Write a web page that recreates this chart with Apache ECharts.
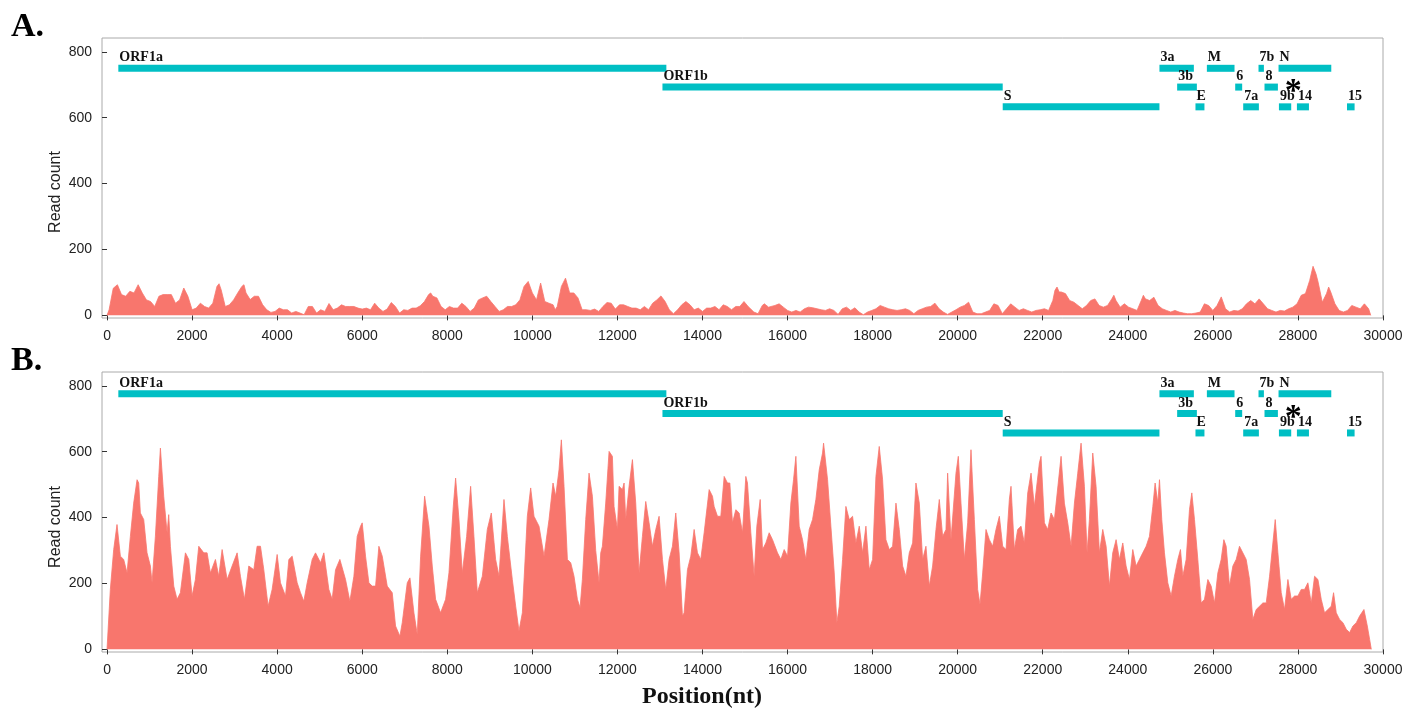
<!DOCTYPE html>
<html>
<head>
<meta charset="utf-8">
<script src="https://cdn.jsdelivr.net/npm/echarts@6/dist/echarts.min.js"></script>
<style>
  html, body { margin: 0; padding: 0; background: #fff; }
  #chart { width: 1419px; height: 713px; }
</style>
</head>
<body>
<div id="chart"></div>
<script>
// tick labels
const xTicks = [0, 2000, 4000, 6000, 8000, 10000, 12000, 14000, 16000, 18000, 20000, 22000, 24000, 26000, 28000, 30000];
const yTicks = [0, 200, 400, 600, 800];

// gene annotation: name, start, end, row (0 = top)
const geneNames = ['ORF1a', 'ORF1b', 'S', '3a', '3b', 'E', 'M', '6', '7a', '7b', '8', 'N', '9b', '14', '15'];
const geneStart = [266, 13059, 21059, 24744, 25160, 25591, 25859, 26525, 26713, 27073, 27214, 27544, 27553, 27976, 29153];
const geneEnd = [13151, 21059, 24744, 25553, 25624, 25802, 26509, 26689, 27082, 27200, 27529, 28784, 27842, 28259, 29332];
const geneRow = [0, 1, 2, 0, 1, 2, 0, 1, 2, 0, 1, 0, 2, 2, 2];
// read-count level of each annotation row in the two panels
const rowLevelA = [750, 693, 633];
const rowLevelB = [776, 716, 657];
const starPos = 27866;
const starRow = 1;

// read coverage, [position, count]
const coverageA = [[0,0],[49,17],[146,82],[244,93],[341,63],[439,58],[537,73],[634,68],[732,93],[829,68],[927,47],[1024,42],[1122,27],[1220,58],[1317,63],[1415,63],[1512,63],[1610,37],[1707,47],[1805,83],[1902,58],[2000,17],[2098,22],[2195,37],[2293,27],[2390,22],[2488,37],[2585,88],[2634,96],[2683,78],[2780,27],[2878,32],[2976,47],[3073,68],[3171,88],[3220,93],[3268,68],[3366,48],[3463,58],[3561,58],[3659,32],[3756,17],[3854,9],[3951,12],[4049,22],[4146,17],[4244,17],[4341,7],[4439,12],[4537,7],[4634,2],[4732,27],[4829,27],[4927,7],[5024,17],[5122,12],[5219,36],[5317,17],[5415,22],[5512,32],[5610,27],[5707,27],[5805,27],[5902,22],[6000,19],[6098,22],[6195,17],[6293,37],[6390,22],[6488,12],[6585,19],[6683,39],[6780,27],[6878,7],[6976,17],[7073,15],[7171,22],[7268,22],[7366,29],[7463,42],[7561,63],[7610,68],[7659,58],[7756,53],[7854,27],[7951,17],[8049,27],[8146,22],[8244,22],[8341,37],[8439,27],[8537,12],[8634,22],[8732,47],[8829,53],[8927,58],[9024,42],[9122,27],[9220,12],[9317,17],[9415,27],[9512,27],[9610,32],[9707,47],[9805,88],[9902,103],[10000,68],[10098,47],[10195,98],[10293,42],[10390,37],[10488,32],[10537,17],[10585,27],[10683,88],[10780,113],[10878,68],[10976,68],[11073,53],[11171,17],[11268,17],[11366,15],[11463,19],[11561,12],[11659,27],[11756,39],[11854,37],[11951,19],[12049,32],[12146,32],[12244,27],[12341,22],[12439,22],[12537,17],[12634,27],[12732,17],[12829,37],[12927,47],[13024,59],[13122,42],[13220,17],[13317,5],[13415,17],[13512,32],[13610,42],[13707,32],[13805,17],[13902,22],[14000,12],[14098,22],[14195,22],[14293,27],[14390,17],[14488,32],[14585,27],[14683,17],[14781,27],[14878,27],[14976,42],[15073,27],[15208,10],[15307,5],[15406,30],[15455,35],[15554,25],[15703,30],[15802,35],[15901,25],[16000,15],[16099,10],[16198,15],[16297,10],[16396,20],[16495,25],[16594,23],[16693,20],[16792,17],[16891,15],[16990,20],[17089,15],[17188,3],[17287,20],[17386,25],[17485,15],[17584,23],[17683,10],[17782,2],[17881,10],[17980,15],[18079,20],[18178,30],[18277,25],[18376,20],[18475,17],[18574,15],[18673,17],[18772,20],[18871,15],[18970,5],[19069,15],[19168,20],[19267,25],[19366,27],[19465,37],[19564,20],[19663,10],[19762,3],[19861,10],[19960,17],[20059,25],[20158,30],[20257,40],[20356,10],[20455,5],[20554,5],[20653,10],[20752,15],[20851,35],[20950,30],[21049,5],[21148,20],[21247,35],[21346,25],[21445,15],[21544,20],[21643,15],[21742,10],[21841,15],[21940,17],[22039,20],[22138,15],[22237,45],[22287,76],[22336,86],[22386,71],[22435,71],[22534,66],[22633,45],[22732,40],[22831,30],[22930,20],[23029,30],[23128,45],[23227,50],[23326,30],[23425,25],[23524,30],[23623,50],[23672,61],[23722,45],[23821,25],[23920,35],[24019,25],[24118,20],[24217,15],[24316,45],[24366,61],[24415,50],[24514,45],[24613,55],[24712,30],[24811,20],[24910,15],[25009,10],[25108,15],[25207,10],[25306,7],[25405,5],[25504,5],[25603,7],[25702,10],[25801,35],[25900,30],[25999,15],[26098,30],[26197,56],[26296,20],[26395,10],[26494,15],[26593,13],[26692,20],[26791,35],[26890,45],[26989,35],[27088,50],[27187,35],[27286,20],[27385,15],[27484,10],[27583,15],[27682,13],[27781,20],[27880,25],[27979,35],[28078,61],[28177,66],[28276,106],[28355,149],[28424,126],[28474,101],[28573,40],[28672,66],[28722,86],[28771,71],[28870,35],[28969,15],[29068,10],[29167,15],[29266,30],[29365,25],[29464,20],[29563,35],[29662,20],[29712,0]];

const coverageB = [[0,0],[78,182],[157,303],[235,379],[275,374],[314,283],[392,273],[471,232],[549,343],[627,444],[706,515],[745,505],[784,414],[863,394],[941,293],[1020,253],[1059,202],[1137,343],[1216,525],[1255,611],[1333,465],[1412,354],[1451,409],[1490,313],[1569,192],[1647,152],[1725,172],[1843,293],[1922,273],[2000,162],[2078,212],[2157,313],[2275,293],[2353,293],[2431,232],[2549,273],[2627,222],[2706,303],[2824,212],[2941,253],[3059,293],[3137,222],[3231,152],[3333,253],[3451,242],[3529,313],[3608,313],[3686,242],[3788,131],[3882,182],[4000,288],[4078,202],[4196,162],[4275,273],[4353,283],[4471,202],[4549,172],[4627,146],[4706,202],[4824,273],[4902,293],[5020,263],[5098,293],[5216,182],[5294,152],[5373,242],[5475,273],[5608,212],[5710,146],[5804,222],[5882,343],[5961,374],[6000,384],[6078,283],[6157,202],[6235,192],[6314,192],[6392,313],[6471,283],[6588,192],[6706,172],[6784,71],[6886,40],[6941,81],[7059,202],[7122,217],[7216,111],[7294,45],[7373,283],[7467,465],[7569,374],[7647,253],[7725,152],[7843,111],[7961,152],[8039,232],[8141,434],[8196,520],[8275,394],[8353,232],[8455,343],[8549,495],[8627,343],[8706,172],[8824,222],[8941,364],[9035,414],[9137,273],[9216,222],[9333,455],[9412,343],[9529,212],[9608,131],[9686,56],[9765,111],[9882,404],[9961,490],[10039,404],[10157,374],[10275,283],[10392,394],[10486,505],[10549,465],[10627,545],[10682,636],[10745,495],[10824,273],[10902,263],[10980,222],[11059,152],[11122,126],[11176,212],[11255,394],[11333,535],[11412,465],[11490,300],[11568,202],[11608,293],[11647,313],[11725,444],[11804,601],[11882,586],[11921,434],[12000,364],[12039,495],[12117,485],[12157,505],[12196,394],[12274,495],[12353,576],[12431,444],[12510,232],[12588,343],[12666,449],[12745,384],[12823,313],[12902,364],[12980,404],[13059,273],[13137,182],[13215,273],[13294,313],[13372,414],[13451,293],[13529,101],[13568,111],[13647,242],[13725,283],[13804,364],[13882,293],[13960,273],[14039,354],[14157,485],[14235,465],[14274,434],[14353,404],[14431,404],[14510,525],[14588,505],[14643,505],[14706,384],[14784,424],[14862,414],[14941,354],[15019,525],[15058,505],[15137,354],[15215,222],[15278,374],[15357,455],[15412,303],[15490,323],[15568,354],[15647,333],[15764,293],[15843,273],[15921,303],[16000,283],[16078,444],[16141,515],[16196,586],[16274,374],[16352,333],[16431,273],[16509,364],[16588,394],[16666,455],[16745,545],[16823,596],[16847,626],[16941,515],[17019,374],[17098,232],[17160,81],[17215,131],[17294,273],[17372,434],[17451,394],[17529,404],[17607,323],[17686,374],[17764,293],[17843,374],[17921,242],[18000,273],[18078,525],[18156,616],[18235,515],[18313,333],[18392,303],[18470,313],[18549,444],[18627,364],[18706,253],[18784,222],[18862,293],[18941,323],[19019,505],[19098,444],[19176,273],[19254,313],[19333,192],[19411,253],[19490,364],[19568,455],[19647,343],[19725,364],[19764,535],[19843,333],[19960,535],[20015,586],[20078,444],[20157,273],[20235,384],[20313,606],[20392,394],[20470,182],[20525,136],[20588,232],[20666,364],[20745,333],[20823,313],[20901,364],[20980,404],[21058,313],[21137,303],[21215,455],[21254,495],[21333,303],[21411,364],[21490,374],[21568,323],[21647,475],[21725,535],[21803,434],[21921,566],[21960,586],[22039,384],[22117,364],[22196,414],[22274,394],[22431,586],[22509,444],[22588,384],[22666,313],[22745,444],[22823,535],[22901,626],[22980,495],[23042,293],[23097,394],[23176,596],[23254,495],[23333,293],[23411,364],[23490,313],[23568,192],[23646,293],[23725,333],[23803,273],[23882,323],[23960,253],[24039,212],[24117,303],[24195,253],[24274,273],[24352,293],[24431,313],[24509,343],[24588,434],[24642,505],[24705,444],[24745,515],[24799,394],[24862,293],[24940,202],[25019,162],[25097,222],[25176,273],[25238,303],[25293,222],[25372,273],[25450,424],[25505,475],[25568,394],[25646,273],[25725,141],[25803,152],[25882,212],[25960,192],[26038,141],[26117,232],[26195,273],[26258,333],[26313,313],[26391,192],[26470,253],[26548,273],[26626,313],[26705,293],[26783,273],[26862,212],[26940,91],[27019,121],[27097,131],[27176,141],[27254,141],[27333,222],[27411,323],[27466,394],[27529,293],[27607,172],[27685,121],[27764,212],[27842,152],[27921,162],[27999,162],[28078,182],[28156,182],[28234,202],[28313,141],[28391,222],[28470,212],[28548,152],[28626,111],[28705,121],[28783,131],[28838,172],[28901,111],[28979,91],[29058,81],[29136,61],[29215,51],[29293,71],[29372,81],[29450,101],[29552,121],[29631,71],[29686,30],[29725,0]];

const chart = echarts.init(document.getElementById('chart'));

const sansFont = 'Liberation Sans';
const serifFont = 'Liberation Serif';
const teal = '#00BFC4';
const salmon = '#F8766D';

const geneData = geneNames.map((n, i) => [geneStart[i], geneEnd[i], geneRow[i], i]);

// bars + names of the genes
function geneRenderer(levels) {
  return function (params, api) {
    const y = levels[api.value(2)];
    const p0 = api.coord([api.value(0), y]);
    const p1 = api.coord([api.value(1), y]);
    return {
      type: 'group',
      children: [
        {
          type: 'rect',
          shape: { x: p0[0], y: p0[1] - 3.5, width: p1[0] - p0[0], height: 7 },
          style: { fill: teal }
        },
        {
          type: 'text',
          style: {
            text: geneNames[api.value(3)],
            x: p0[0] + 1,
            y: p0[1] - 3.5,
            textAlign: 'left',
            textVerticalAlign: 'bottom',
            font: 'bold 14px "' + serifFont + '"',
            fill: '#111'
          }
        }
      ]
    };
  };
}

function starRenderer(levels) {
  return function (params, api) {
    const p = api.coord([api.value(0), levels[api.value(1)]]);
    return {
      type: 'text',
      style: {
        text: '*',
        x: p[0] + 1,
        y: p[1] - 12,
        textAlign: 'center',
        textVerticalAlign: 'top',
        font: 'bold 34px "' + serifFont + '"',
        fill: '#000'
      }
    };
  };
}

function xAxisOf(gridIndex) {
  return {
    type: 'value',
    gridIndex: gridIndex,
    min: -118,
    max: 30000,
    axisLine: { show: false },
    splitLine: { show: false },
    axisTick: { show: true, customValues: xTicks, length: 5, lineStyle: { color: '#333' } },
    axisLabel: {
      customValues: xTicks, fontSize: 14, color: '#222', margin: 11, fontFamily: sansFont,
      formatter: v => String(v)
    }
  };
}

function yAxisOf(gridIndex) {
  return {
    type: 'value',
    gridIndex: gridIndex,
    min: -8,
    max: 842,
    axisLine: { show: false },
    splitLine: { show: false },
    axisTick: { show: true, customValues: yTicks, length: 5, lineStyle: { color: '#333' } },
    axisLabel: {
      customValues: yTicks, fontSize: 14, color: '#222', margin: 10, fontFamily: sansFont,
      formatter: v => String(v)
    }
  };
}

function areaSeries(idx, data) {
  return {
    type: 'line',
    xAxisIndex: idx,
    yAxisIndex: idx,
    data: data,
    showSymbol: false,
    silent: true,
    lineStyle: { width: 0.8, color: salmon },
    areaStyle: { color: salmon, opacity: 1 },
    z: 2
  };
}

chart.setOption({
  animation: false,
  grid: [
    { left: 102, top: 38, width: 1281, height: 280, show: true, borderColor: '#aaa', borderWidth: 1 },
    { left: 102, top: 372, width: 1281, height: 280, show: true, borderColor: '#aaa', borderWidth: 1 }
  ],
  xAxis: [xAxisOf(0), xAxisOf(1)],
  yAxis: [yAxisOf(0), yAxisOf(1)],
  graphic: [
    { type: 'text', left: 11, top: 10, style: { text: 'A.', font: 'bold 34px "' + serifFont + '"', fill: '#000' } },
    { type: 'text', left: 11, top: 344, style: { text: 'B.', font: 'bold 34px "' + serifFont + '"', fill: '#000' } },
    { type: 'text', x: 56, y: 192, rotation: Math.PI / 2,
      style: { text: 'Read count', font: '16px "' + sansFont + '"', fill: '#222', textAlign: 'center', textVerticalAlign: 'middle' } },
    { type: 'text', x: 56, y: 527, rotation: Math.PI / 2,
      style: { text: 'Read count', font: '16px "' + sansFont + '"', fill: '#222', textAlign: 'center', textVerticalAlign: 'middle' } },
    { type: 'text', x: 702, y: 697,
      style: { text: 'Position(nt)', font: 'bold 24px "' + serifFont + '"', fill: '#111', textAlign: 'center', textVerticalAlign: 'middle' } }
  ],
  series: [
    areaSeries(0, coverageA),
    areaSeries(1, coverageB),
    { type: 'custom', xAxisIndex: 0, yAxisIndex: 0, data: geneData, renderItem: geneRenderer(rowLevelA), silent: true, z: 3 },
    { type: 'custom', xAxisIndex: 1, yAxisIndex: 1, data: geneData, renderItem: geneRenderer(rowLevelB), silent: true, z: 3 },
    { type: 'custom', xAxisIndex: 0, yAxisIndex: 0, data: [[starPos, starRow]], renderItem: starRenderer(rowLevelA), silent: true, z: 3 },
    { type: 'custom', xAxisIndex: 1, yAxisIndex: 1, data: [[starPos, starRow]], renderItem: starRenderer(rowLevelB), silent: true, z: 3 }
  ]
});
</script>
</body>
</html>
